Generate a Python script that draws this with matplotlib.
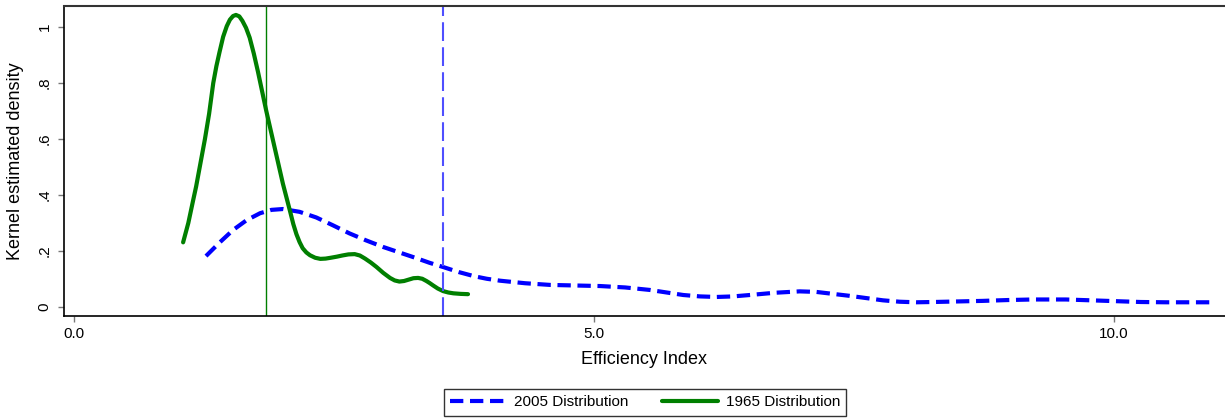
import matplotlib
matplotlib.use("Agg")
import matplotlib.pyplot as plt

plt.rcParams['font.family'] = ['Liberation Sans', 'DejaVu Sans']

# 1965 kernel density (green, solid)
x1965 = [1.05, 1.10, 1.147, 1.175, 1.20, 1.23, 1.26, 1.28, 1.30, 1.32, 1.34, 1.37, 1.40, 1.435,
         1.47, 1.50, 1.53, 1.558, 1.59, 1.62, 1.655, 1.69, 1.73, 1.77, 1.81, 1.85, 1.89, 1.93,
         1.97, 2.01, 2.045, 2.08, 2.11, 2.14, 2.17, 2.20, 2.235, 2.27, 2.32, 2.37, 2.42, 2.47,
         2.53, 2.58, 2.64, 2.70, 2.75, 2.80, 2.855, 2.91, 2.975, 3.04, 3.085, 3.13, 3.175, 3.22,
         3.265, 3.31, 3.35, 3.39, 3.42, 3.455, 3.50, 3.55, 3.60, 3.65, 3.72, 3.79]
y1965 = [0.231, 0.30, 0.382, 0.43, 0.48, 0.54, 0.60, 0.645, 0.69, 0.745, 0.80, 0.86, 0.91, 0.965,
         1.003, 1.026, 1.039, 1.043, 1.038, 1.022, 0.997, 0.962, 0.905, 0.84, 0.77, 0.70, 0.635,
         0.57, 0.505, 0.44, 0.39, 0.34, 0.296, 0.26, 0.232, 0.21, 0.195, 0.185, 0.176, 0.172,
         0.173, 0.176, 0.18, 0.184, 0.188, 0.189, 0.184, 0.173, 0.159, 0.143, 0.122, 0.104,
         0.095, 0.091, 0.093, 0.098, 0.103, 0.104, 0.101, 0.093, 0.086, 0.077, 0.066, 0.057,
         0.052, 0.049, 0.047, 0.046]

# 2005 kernel density (blue, dashed)
x2005 = [1.27, 1.40, 1.53, 1.66, 1.79, 1.90, 2.01, 2.17, 2.33, 2.49, 2.65, 2.81, 2.97, 3.13,
         3.29, 3.42, 3.55, 3.70, 3.85, 3.97, 4.10, 4.34, 4.58, 4.82, 5.06, 5.30, 5.54, 5.70,
         5.86, 6.02, 6.18, 6.34, 6.50, 6.74, 6.98, 7.14, 7.30, 7.46, 7.62, 7.78, 7.94, 8.10,
         8.26, 8.50, 8.74, 8.98, 9.22, 9.54, 9.78, 10.02, 10.26, 10.50, 10.95]
y2005 = [0.182, 0.23, 0.275, 0.31, 0.335, 0.347, 0.35, 0.34, 0.32, 0.292, 0.263, 0.238, 0.215,
         0.195, 0.175, 0.158, 0.143, 0.125, 0.11, 0.101, 0.094, 0.085, 0.079, 0.077, 0.075,
         0.07, 0.061, 0.052, 0.043, 0.038, 0.036, 0.038, 0.043, 0.051, 0.056, 0.054, 0.047,
         0.04, 0.032, 0.024, 0.019, 0.017, 0.018, 0.02, 0.022, 0.025, 0.027, 0.027, 0.024,
         0.021, 0.018, 0.017, 0.017]

# means (vertical reference lines)
mean1965 = 1.85
mean2005 = 3.55

xticks = [0, 5, 10]
xticklabels = ["0.0", "5.0", "10.0"]
yticks = [0, 0.2, 0.4, 0.6, 0.8, 1.0]
yticklabels = ["0", ".2", ".4", ".6", ".8", "1"]

fig = plt.figure(figsize=(12.25, 4.19), dpi=100)
ax = fig.add_axes([0.0522, 0.2458, 0.9478, 0.7406])

blue = '#0000ff'
green = '#007f00'

l2005, = ax.plot(x2005, y2005, color=blue, lw=3.0, dashes=(3.2, 1.6),
                 dash_capstyle='butt', dash_joinstyle='round', label='2005 Distribution')
l1965, = ax.plot(x1965, y1965, color=green, lw=3.0, solid_capstyle='round',
                 solid_joinstyle='round', label='1965 Distribution')
ax.axvline(mean1965, color=green, lw=1.0)
ax.axvline(mean2005, color='#4f4fff', lw=1.5, dashes=(9, 3))

ax.set_xlim(-0.096, 11.07)
ax.set_ylim(-0.032, 1.076)

ax.set_xticks(xticks)
ax.set_xticklabels(xticklabels)
ax.set_yticks(yticks)
ax.set_yticklabels(yticklabels, rotation=90, va='center')
ax.tick_params(axis='both', direction='out', length=4, width=1, color='#777777',
               labelsize=11, pad=4)
ax.tick_params(axis='y', pad=5)

ax.spines['right'].set_visible(False)
ax.spines['top'].set_color('#333333')
ax.spines['top'].set_linewidth(1.5)
ax.spines['left'].set_linewidth(1.2)
ax.spines['bottom'].set_linewidth(1.2)

ax.set_xlabel("Efficiency Index", fontsize=13, labelpad=7)
ax.set_ylabel("Kernel estimated density", fontsize=13, labelpad=10)

leg = fig.legend(handles=[l2005, l1965], loc='center', bbox_to_anchor=(0.5265, 0.0394),
                 ncol=2, fontsize=11, frameon=True, fancybox=False, edgecolor='black',
                 handlelength=3.7, handletextpad=0.5, columnspacing=2.2,
                 borderpad=0.4, borderaxespad=0)
leg.get_frame().set_linewidth(1.0)

fig.savefig("out.png", dpi=100)
